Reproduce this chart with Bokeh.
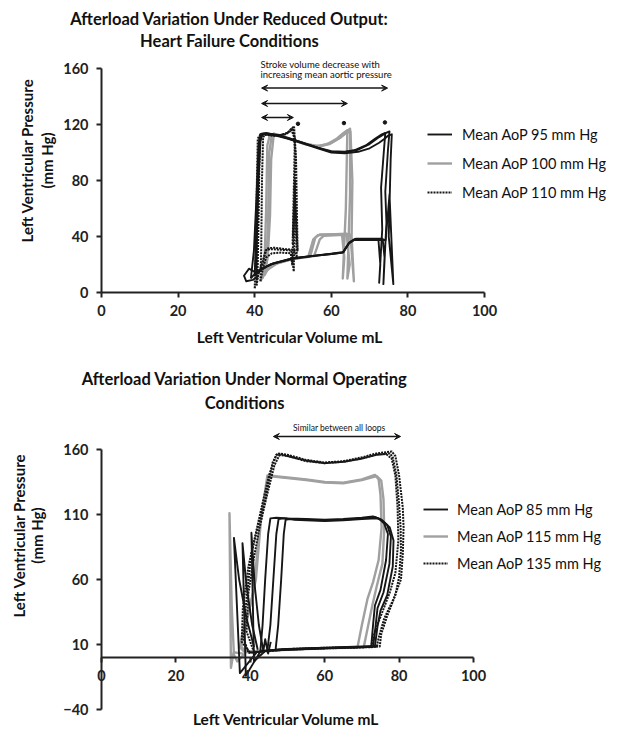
import math
from bokeh.plotting import figure
from bokeh.models import (ColumnDataSource, Range1d, FixedTicker, Label, Arrow,
                          VeeHead, Legend, LegendItem)
from bokeh.layouts import column
from bokeh.embed import file_html
from bokeh.resources import INLINE

FONT = "Lato"
BLACK = "#161616"
GRAY = "#a0a0a0"
AXIS = "#222222"

# ================= Chart 1: heart failure =================
hf_title = ["Afterload Variation Under Reduced Output:", "Heart Failure Conditions"]
hf_x_ticks = [0, 20, 40, 60, 80, 100]
hf_y_ticks = [0, 40, 80, 120, 160]
hf_labels = ["Mean AoP 95 mm Hg", "Mean AoP 100 mm Hg", "Mean AoP 110 mm Hg"]
hf_note = ["Stroke volume decrease with", "increasing mean aortic pressure"]

# Mean AoP 95 mm Hg (black solid), one list per traced loop
hf95_v = [
    [40.5, 42.0, 45.0, 50.0, 55.0, 60.0, 63.0, 64.5, 66.0, 70.0, 72.3, 72.8, 72.5, 73.3, 73.0, 73.7, 74.1, 73.2, 71.5, 69.0, 66.0, 63.0, 60.0, 57.0, 53.0, 49.0, 46.0, 43.5, 42.0, 41.5, 41.0, 40.6, 40.5],
    [40.0, 41.5, 44.5, 50.0, 55.0, 60.0, 63.2, 64.8, 66.5, 71.0, 73.4, 73.9, 73.6, 74.4, 74.1, 74.8, 75.2, 74.3, 72.5, 70.0, 67.0, 63.5, 60.0, 56.5, 52.5, 48.5, 45.5, 43.0, 41.8, 41.2, 40.7, 40.3, 40.0],
    [39.0, 40.5, 44.0, 50.0, 55.0, 60.0, 63.0, 64.6, 66.0, 71.0, 74.2, 75.2, 76.2, 75.0, 75.5, 75.8, 74.8, 74.0, 72.5, 70.0, 67.0, 63.5, 60.0, 56.5, 52.5, 48.5, 45.0, 42.5, 41.5, 41.0, 40.5, 39.8, 39.0],
    [40.5, 38.5, 37.2, 37.8, 39.5, 41.0],
]
hf95_p = [
    [14, 17, 21, 24.5, 26, 27.5, 28.5, 35, 38, 38, 38, 20, 7, 45, 75, 100, 114, 113, 110, 105, 101.5, 100, 100.5, 103, 106.5, 110, 112.5, 113.5, 113, 108, 80, 40, 14],
    [12, 16, 20.5, 24.5, 26.2, 27.8, 29, 36, 38.5, 38.5, 38.5, 25, 6, 50, 72, 102, 115, 114, 111, 106, 102, 100.5, 101, 103.5, 107, 110.5, 112.5, 114, 113.5, 109, 75, 35, 12],
    [10, 15, 20, 24, 26, 27.5, 28.5, 35, 37.5, 37.5, 37.5, 70, 6, 40, 95, 113, 112, 110, 107, 103, 100.5, 99.5, 100, 103, 106.5, 110, 112.5, 113.5, 113, 105, 70, 30, 10],
    [14, 17, 12, 8, 9, 12],
]
# Mean AoP 100 mm Hg (grey solid)
hf100_v = [
    [42.0, 43.0, 45.5, 50.0, 54.0, 55.3, 56.5, 60.0, 62.8, 63.4, 63.0, 63.8, 64.2, 63.2, 61.5, 59.0, 56.0, 53.0, 49.0, 46.0, 44.0, 43.3, 43.0, 42.6, 42.0],
    [41.5, 42.8, 45.5, 50.0, 54.5, 55.8, 57.0, 61.0, 64.0, 64.8, 64.2, 64.9, 64.9, 64.0, 62.5, 60.0, 57.0, 53.5, 49.5, 46.5, 44.5, 43.8, 43.5, 43.0, 41.5],
    [42.5, 43.5, 46.0, 50.0, 55.5, 57.0, 58.0, 62.0, 65.0, 65.9, 65.3, 65.5, 65.0, 64.0, 62.0, 59.5, 56.5, 53.0, 49.5, 47.0, 45.0, 44.3, 44.0, 43.4, 42.5],
]
hf100_p = [
    [10, 16, 21, 24, 25.5, 38, 41, 41.2, 41.5, 25, 10, 60, 116, 114, 110, 106, 104.5, 106.5, 110, 112.5, 113, 105, 60, 25, 10],
    [8, 15, 20.5, 24, 25.8, 39, 41.5, 41.7, 42, 20, 10, 70, 117, 115, 111, 107, 104.5, 106, 109.5, 112, 113, 100, 50, 20, 8],
    [12, 17, 21, 24, 26, 38, 40.5, 41, 41.2, 8, 40, 80, 115, 114, 110, 106, 104, 106, 109.5, 112, 113.5, 95, 55, 25, 12],
]
# Mean AoP 110 mm Hg (black dotted)
hf110_v = [
    [40.5, 41.0, 42.0, 42.8, 44.0, 47.0, 49.6, 50.2, 50.6, 50.0, 50.7, 50.3, 49.8, 49.0, 48.0, 46.5, 44.5, 42.5, 41.5, 41.2, 41.0, 40.8, 40.5],
    [40.0, 40.8, 41.8, 43.2, 45.0, 48.0, 50.3, 51.0, 50.4, 51.2, 50.8, 50.0, 49.2, 48.5, 47.0, 45.0, 43.0, 41.5, 40.8, 40.5, 40.3, 40.0],
    [41.5, 42.2, 43.0, 44.5, 47.0, 49.4, 49.8, 50.5, 49.9, 50.5, 49.6, 48.5, 47.0, 45.0, 43.0, 42.2, 41.9, 41.7, 41.5],
]
hf110_p = [
    [5, 14, 20, 30, 31, 30.5, 30, 15, 80, 40, 100, 118, 117, 114.5, 113, 112.5, 112.5, 113, 112, 90, 50, 20, 5],
    [3, 12, 20, 31.5, 32, 31, 30.5, 25, 75, 30, 95, 118, 116, 114, 112.5, 112, 112.5, 113, 110, 70, 30, 3],
    [8, 18, 25, 28, 28.5, 28, 20, 70, 35, 110, 116, 114, 112.5, 112, 113, 111, 80, 30, 8],
]
# end-systolic markers and stroke-volume arrows
hf_mark_v = [51.3, 63.3, 74.0]
hf_mark_p = [120.5, 121.0, 121.5]
hf_arrow_from = [41.8, 41.8, 41.8]
hf_arrow_to = [74.7, 64.2, 50.1]
hf_arrow_p = [146, 135, 125]

# ================= Chart 2: normal operating =================
no_title = ["Afterload Variation Under Normal Operating", "Conditions"]
no_x_ticks = [0, 20, 40, 60, 80, 100]
no_y_ticks = [-40, 10, 60, 110, 160]
no_labels = ["Mean AoP 85 mm Hg", "Mean AoP 115 mm Hg", "Mean AoP 135 mm Hg"]
no_note = "Similar between all  loops"

no85_v = [
    [42.7, 50.0, 60.0, 70.0, 72.5, 73.0, 73.5, 75.0, 76.5, 77.0, 76.0, 74.5, 73.0, 70.0, 65.0, 60.0, 55.0, 50.0, 47.0, 45.4, 44.8, 44.0, 43.3, 42.7],
    [44.6, 50.0, 60.0, 70.0, 73.0, 73.6, 74.2, 75.8, 77.4, 77.8, 76.8, 75.0, 73.5, 70.0, 65.0, 60.0, 55.0, 51.0, 49.0, 47.6, 47.0, 46.2, 45.4, 44.6],
    [46.8, 50.0, 60.0, 70.0, 73.5, 74.2, 75.0, 76.8, 78.3, 78.5, 77.5, 75.5, 74.0, 70.0, 65.0, 60.0, 55.0, 52.0, 50.5, 49.5, 49.0, 48.3, 47.5, 46.8],
    [42.0, 37.2, 35.6, 37.0, 39.0, 41.0],
    [43.0, 38.8, 37.9, 39.0, 40.5, 42.0],
    [44.0, 41.0, 40.3, 41.2, 42.3, 43.5, 44.0, 44.8, 45.5],
]
no85_p = [
    [5, 6, 7, 8, 8.3, 25, 40, 52, 75, 95, 103, 107, 108.5, 107.5, 106.5, 106, 106.5, 107, 107.5, 107, 95, 60, 25, 5],
    [5.5, 6.3, 7.2, 8.2, 8.5, 22, 38, 50, 72, 93, 102, 106.5, 108, 107, 106, 105.5, 106, 106.5, 107, 106.5, 95, 60, 25, 5.5],
    [6, 6.5, 7.5, 8.5, 8.8, 24, 36, 48, 70, 90, 100, 105.5, 107, 106.5, 105.5, 105, 105.5, 106, 106.5, 106, 95, 60, 25, 6],
    [5, -12, 92, 60, 30, 8],
    [6, -14, 88, 55, 25, 6],
    [5, -3, 96, 55, 25, 5, 14, 3, 12],
]
no115_v = [
    [40.5, 45.0, 50.0, 60.0, 68.8, 70.0, 71.5, 73.0, 74.5, 75.3, 75.0, 74.5, 73.5, 70.0, 65.0, 60.0, 55.0, 50.0, 44.6, 42.5, 40.9, 39.5, 38.0, 37.2, 38.5, 40.5],
    [41.0, 45.0, 50.0, 60.0, 70.5, 71.5, 72.8, 74.0, 75.5, 76.0, 75.8, 75.2, 74.0, 70.0, 65.0, 60.0, 55.0, 50.0, 45.0, 43.0, 41.5, 40.0, 38.5, 37.6, 39.0, 41.0],
    [38.0, 35.5, 34.8, 34.4, 35.0, 35.6, 36.5, 38.5],
]
no115_p = [
    [4.5, 5.3, 6, 7, 7.6, 25, 45, 58, 75, 100, 125, 137, 140.5, 137, 134.5, 135, 137, 138.5, 140, 100, 51, 35, 20, 8, 4, 4.5],
    [4.8, 5.5, 6.2, 7.2, 8, 22, 40, 55, 72, 98, 122, 136, 139.5, 136.5, 134, 134.5, 136.5, 138, 139.5, 110, 60, 40, 22, 8, 4.5, 4.8],
    [3, 4, -8, 111, 40, 2, -3, 3],
]
no135_v = [
    [39.5, 45.0, 50.0, 60.0, 70.0, 73.0, 74.0, 74.5, 76.0, 78.5, 80.5, 81.0, 81.2, 81.0, 80.0, 79.0, 78.0, 74.0, 70.0, 65.0, 60.0, 55.0, 50.0, 47.3, 46.0, 44.0, 42.0, 40.3, 38.8, 38.2, 39.5],
    [40.0, 45.0, 50.0, 60.0, 70.0, 73.5, 74.8, 75.2, 76.8, 79.0, 80.0, 80.5, 80.4, 80.0, 79.3, 78.3, 77.5, 74.0, 70.0, 65.0, 60.0, 55.0, 50.0, 47.0, 45.0, 43.0, 41.2, 39.5, 38.0, 37.7, 40.0],
    [41.0, 50.0, 60.0, 70.0, 72.5, 73.5, 75.5, 77.5, 79.0, 79.8, 79.6, 79.0, 78.0, 76.5, 74.0, 70.0, 65.0, 60.0, 55.0, 50.0, 48.0, 46.5, 44.5, 42.5, 41.0, 39.5, 39.0, 41.0],
]
no135_p = [
    [3.5, 5, 6, 7, 7.7, 8, 8.2, 15, 30, 45, 60, 80, 100, 115, 140, 155, 158.5, 157, 154, 151, 150, 152, 156, 157, 150, 121, 100, 80, 40, 15, 3.5],
    [3.8, 5.2, 6.2, 7.2, 7.9, 8.3, 8.5, 18, 32, 48, 62, 82, 100, 118, 140, 154, 157, 156, 153, 150.5, 149.5, 151.5, 155, 156, 140, 115, 92, 70, 38, 12, 3.8],
    [4, 6.5, 7.5, 8, 8.2, 20, 35, 50, 65, 90, 115, 140, 153, 156.5, 156, 153, 150.5, 149.5, 151, 155, 156.5, 148, 125, 100, 77, 50, 20, 4],
]
no_arrow_from = [46.2]
no_arrow_to = [80.4]
no_arrow_p = [170]


def style_axes(p, xticks, yticks, ybounds):
    for ax in (p.xaxis[0], p.yaxis[0]):
        ax.fixed_location = 0
        ax.axis_line_width = 2
        ax.axis_line_color = AXIS
        ax.major_tick_line_width = 2
        ax.major_tick_line_color = AXIS
        ax.major_tick_out = 5
        ax.major_tick_in = 0
        ax.minor_tick_out = 0
        ax.minor_tick_in = 0
        ax.major_label_standoff = 8
        ax.major_label_text_font = FONT
        ax.major_label_text_font_style = "bold"
        ax.major_label_text_font_size = "14.5px"
        ax.major_label_text_color = AXIS
    p.xaxis[0].ticker = FixedTicker(ticks=xticks)
    p.xaxis[0].bounds = (0, 100)
    p.yaxis[0].ticker = FixedTicker(ticks=yticks)
    p.yaxis[0].bounds = ybounds
    p.xgrid.visible = False
    p.ygrid.visible = False
    p.outline_line_color = None


def label(p, x, y, text, size, bold=False, angle=0.0, align="center"):
    p.add_layout(Label(x=x, y=y, text=text, angle=angle, text_align=align,
                       text_baseline="middle", text_font=FONT,
                       text_font_size=size, text_color="#111111",
                       text_font_style="bold" if bold else "normal"))


def add_series(p, vs, ps, labels, loc, spacing, standoff):
    r_gray = p.multi_line(xs=vs[1], ys=ps[1], line_color=GRAY, line_width=2.4, line_join="round")
    r_dot = p.multi_line(xs=vs[2], ys=ps[2], line_color=BLACK, line_width=2, line_dash="2 1", line_join="round")
    r_blk = p.multi_line(xs=vs[0], ys=ps[0], line_color=BLACK, line_width=1.9, line_join="round")
    legend = Legend(items=[LegendItem(label=labels[0], renderers=[r_blk]),
                           LegendItem(label=labels[1], renderers=[r_gray]),
                           LegendItem(label=labels[2], renderers=[r_dot])],
                    location=loc, padding=0, margin=0, spacing=spacing,
                    label_standoff=standoff, glyph_width=25, glyph_height=20,
                    label_height=20, label_text_font=FONT,
                    label_text_font_size="14.5px", label_text_color="#111111",
                    border_line_color=None, background_fill_alpha=0)
    p.add_layout(legend)


def add_arrows(p, x0, x1, y):
    src = ColumnDataSource(dict(x0=x0, x1=x1, y=y))
    head = dict(size=6, line_color=BLACK, fill_color=BLACK, line_width=1)
    p.add_layout(Arrow(start=VeeHead(**head), end=VeeHead(**head),
                       x_start="x0", y_start="y", x_end="x1", y_end="y",
                       source=src, line_color=BLACK, line_width=1.5))


def make_fig(w, h, xr, yr):
    return figure(frame_width=w, frame_height=h, x_range=Range1d(*xr),
                  y_range=Range1d(*yr), min_border=0, min_border_left=0,
                  min_border_right=0, min_border_top=0, min_border_bottom=0,
                  output_backend="svg", toolbar_location=None)


# ---------- figure 1 : 618 x 350 px, 3.83 px per mL, 1.4 px per mm Hg ----------
p1 = make_fig(618, 350, (-26.37, 134.99), (-41.43, 208.57))
style_axes(p1, hf_x_ticks, hf_y_ticks, (0, 160))
add_series(p1, [hf95_v, hf100_v, hf110_v], [hf95_p, hf100_p, hf110_p],
           hf_labels, (427, 148), 9, 10)
p1.scatter(x=hf_mark_v, y=hf_mark_p, size=3.5, color=BLACK)
add_arrows(p1, hf_arrow_from, hf_arrow_to, hf_arrow_p)
label(p1, 41.5, 162.9, hf_note[0], "9.5px", align="left")
label(p1, 41.5, 155.5, hf_note[1], "9.5px", align="left")
label(p1, 33.4, 195.6, hf_title[0], "16.5px", bold=True)
label(p1, 33.4, 179.6, hf_title[1], "16.5px", bold=True)
label(p1, -19.5, 94.3, "Left Ventricular Pressure", "15px", bold=True, angle=math.pi / 2)
label(p1, -14.3, 94.3, "(mm Hg)", "15px", bold=True, angle=math.pi / 2)
label(p1, 49.3, -31.5, "Left Ventricular Volume mL", "15.5px", bold=True)

# ---------- figure 2 : 618 x 378 px, 3.72 px per mL, 1.3 px per mm Hg ----------
p2 = make_fig(618, 378, (-27.15, 138.98), (-54.62, 236.15))
style_axes(p2, no_x_ticks, no_y_ticks, (-40, 160))
add_series(p2, [no85_v, no115_v, no135_v], [no85_p, no115_p, no135_p],
           no_labels, (423, 155), 7, 9)
add_arrows(p2, no_arrow_from, no_arrow_to, no_arrow_p)
label(p2, 64.2, 176.2, no_note, "8.5px")
label(p2, 38.5, 214.6, no_title[0], "16.5px", bold=True)
label(p2, 38.5, 195.8, no_title[1], "16.5px", bold=True)
label(p2, -22.3, 93.8, "Left Ventricular Pressure", "15px", bold=True, angle=math.pi / 2)
label(p2, -17.3, 93.8, "(mm Hg)", "15px", bold=True, angle=math.pi / 2)
label(p2, 49.7, -47.0, "Left Ventricular Volume mL", "15.5px", bold=True)

layout = column(p1, p2)
open("out.html", "w").write(file_html(layout, INLINE))
